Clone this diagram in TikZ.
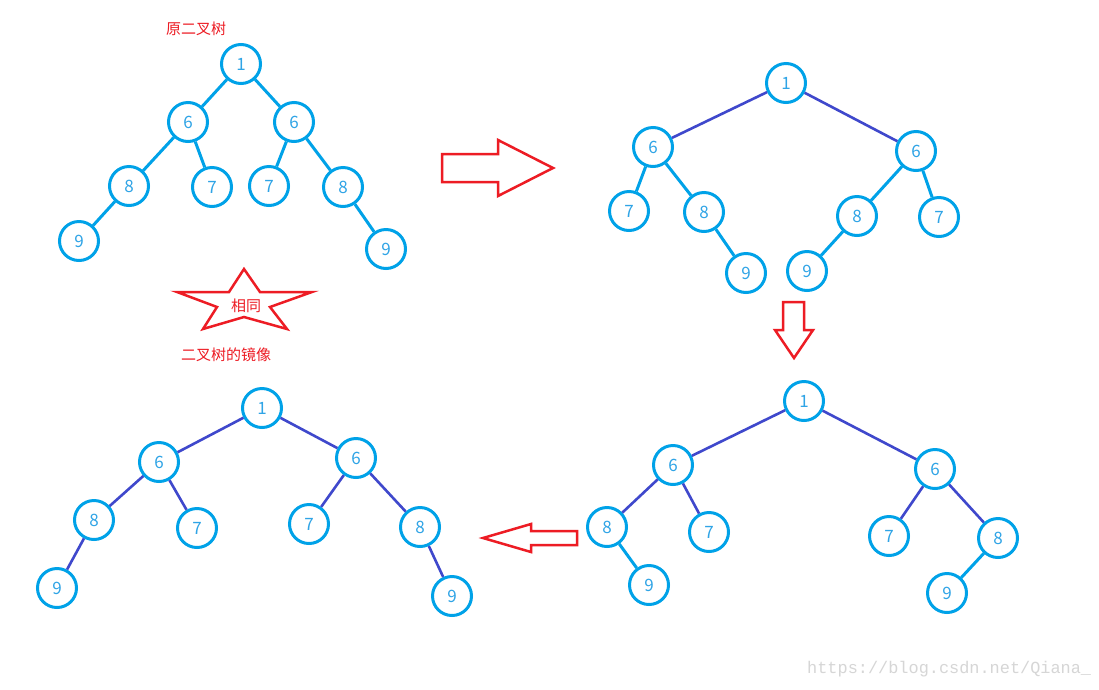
\documentclass[tikz,border=0pt]{standalone}
\usepackage{fontspec}
\setmainfont{Noto Sans CJK SC}
\newfontfamily\wmfont{Liberation Mono}
\definecolor{tcyan}{HTML}{00A2E8}
\definecolor{tdigit}{HTML}{2FA4E6}
\definecolor{tpurple}{HTML}{3F48CC}
\definecolor{tred}{HTML}{ED1C24}
\definecolor{wmgray}{HTML}{D6D6D6}
\tikzset{
  tn/.style={circle,draw=tcyan,line width=3pt,minimum size=39pt,inner sep=0pt,fill=white,text=tdigit,font=\fontsize{17}{20}\selectfont},
  ce/.style={draw=tcyan,line width=3pt},
  pe/.style={draw=tpurple,line width=2.6pt},
  redshape/.style={draw=tred,line width=2.5pt,line join=miter},
  redtxt/.style={text=tred,font=\fontsize{15}{18}\selectfont,inner sep=0pt}
}
\begin{document}
\begin{tikzpicture}[x=1pt,y=-1pt]
\useasboundingbox (0,0) rectangle (1099,689);
\fill[white] (0,0) rectangle (1099,689);

% ---------- Tree A (original) ----------
\node[redtxt] (tA) at (196,29) {原二叉树};
\node[tn] (a1) at (241,64) {1};
\node[tn] (a6l) at (188,122) {6};
\node[tn] (a6r) at (294,122) {6};
\node[tn] (a8l) at (129,186) {8};
\node[tn] (a7l) at (212,187) {7};
\node[tn] (a7r) at (269,186) {7};
\node[tn] (a8r) at (343,187) {8};
\node[tn] (a9l) at (79,241) {9};
\node[tn] (a9r) at (386,249) {9};
\draw[ce] (a1) -- (a6l);
\draw[ce] (a1) -- (a6r);
\draw[ce] (a6l) -- (a8l);
\draw[ce] (a6l) -- (a7l);
\draw[ce] (a6r) -- (a7r);
\draw[ce] (a6r) -- (a8r);
\draw[ce] (a8l) -- (a9l);
\draw[ce] (a8r) -- (a9r);

% ---------- Tree B ----------
\node[tn] (b1) at (786,83) {1};
\node[tn] (b6l) at (653,147) {6};
\node[tn] (b6r) at (916,151) {6};
\node[tn] (b7l) at (629,211) {7};
\node[tn] (b8l) at (704,212) {8};
\node[tn] (b9l) at (746,273) {9};
\node[tn] (b8r) at (857,216) {8};
\node[tn] (b7r) at (939,217) {7};
\node[tn] (b9r) at (807,271) {9};
\draw[pe] (b1) -- (b6l);
\draw[pe] (b1) -- (b6r);
\draw[ce] (b6l) -- (b7l);
\draw[ce] (b6l) -- (b8l);
\draw[ce] (b8l) -- (b9l);
\draw[ce] (b6r) -- (b8r);
\draw[ce] (b6r) -- (b7r);
\draw[ce] (b8r) -- (b9r);

% ---------- Tree C ----------
\node[tn] (c1) at (804,401) {1};
\node[tn] (c6l) at (673,465) {6};
\node[tn] (c6r) at (935,469) {6};
\node[tn] (c8l) at (607,527) {8};
\node[tn] (c7l) at (709,532) {7};
\node[tn] (c9l) at (649,585) {9};
\node[tn] (c7r) at (889,536) {7};
\node[tn] (c8r) at (998,538) {8};
\node[tn] (c9r) at (947,593) {9};
\draw[pe] (c1) -- (c6l);
\draw[pe] (c1) -- (c6r);
\draw[pe] (c6l) -- (c8l);
\draw[pe] (c6l) -- (c7l);
\draw[pe] (c6r) -- (c7r);
\draw[pe] (c6r) -- (c8r);
\draw[ce] (c8l) -- (c9l);
\draw[ce] (c8r) -- (c9r);

% ---------- Tree D (mirror) ----------
\node[redtxt] (tD) at (226,355) {二叉树的镜像};
\node[tn] (d1) at (262,408) {1};
\node[tn] (d6l) at (159,462) {6};
\node[tn] (d6r) at (356,458) {6};
\node[tn] (d8l) at (94,520) {8};
\node[tn] (d7l) at (197,528) {7};
\node[tn] (d9l) at (57,588) {9};
\node[tn] (d7r) at (309,524) {7};
\node[tn] (d8r) at (420,527) {8};
\node[tn] (d9r) at (452,596) {9};
\draw[pe] (d1) -- (d6l);
\draw[pe] (d1) -- (d6r);
\draw[pe] (d6l) -- (d8l);
\draw[pe] (d6l) -- (d7l);
\draw[pe] (d8l) -- (d9l);
\draw[pe] (d6r) -- (d7r);
\draw[pe] (d6r) -- (d8r);
\draw[pe] (d8r) -- (d9r);

% ---------- Red shapes ----------
\draw[redshape] (442,154) -- (498,154) -- (498,140) -- (553,168) -- (498,196) -- (498,182) -- (442,182) -- cycle;
\draw[redshape] (783,302) -- (804,302) -- (804,330) -- (813,330) -- (794,358) -- (775,330) -- (783,330) -- cycle;
\draw[redshape] (483,538) -- (531,524) -- (531,531) -- (577,531) -- (577,545) -- (531,545) -- (531,552) -- cycle;
\draw[redshape] (244,269) -- (229,292) -- (177,292) -- (217,307) -- (203,329) -- (244,317) -- (287,329) -- (270,307) -- (312,292) -- (260,292) -- cycle;
\node[redtxt] (same) at (246,306) {相同};

% ---------- Watermark ----------
\node[text=wmgray,font=\wmfont\fontsize{16.9}{18}\selectfont,inner sep=0pt,anchor=west] (wm) at (807,669) {https://blog.csdn.net/Qiana\_};
\end{tikzpicture}
\end{document}
